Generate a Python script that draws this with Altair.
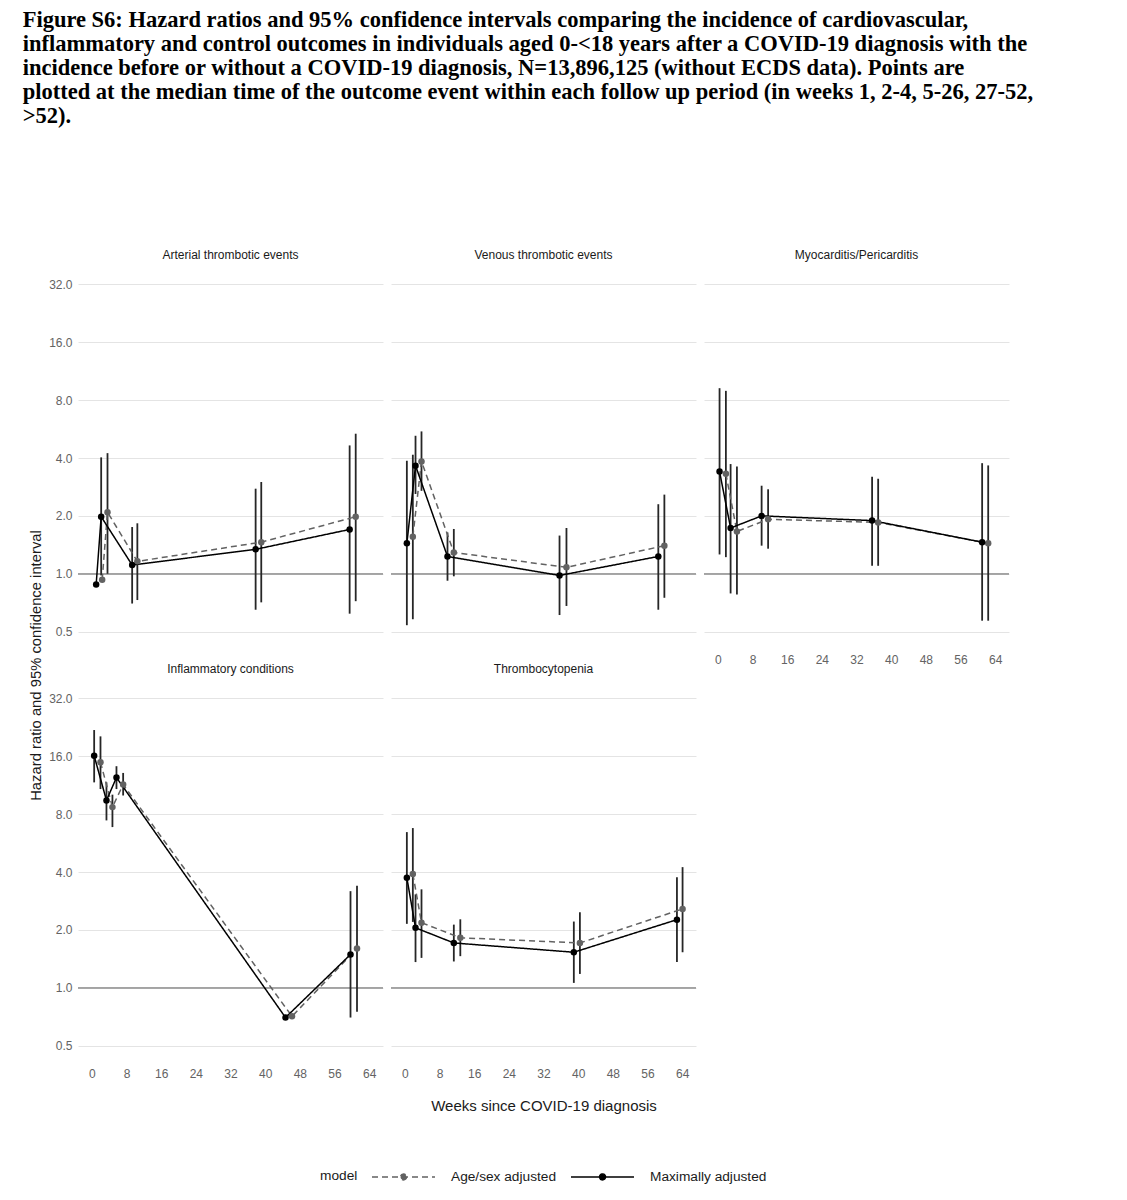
import altair as alt
import pandas as pd

CAPTION = [
    "Figure S6: Hazard ratios and 95% confidence intervals comparing the incidence of cardiovascular,",
    "inflammatory and control outcomes in individuals aged 0-<18 years after a COVID-19 diagnosis with the",
    "incidence before or without a COVID-19 diagnosis, N=13,896,125 (without ECDS data). Points are",
    "plotted at the median time of the outcome event within each follow up period (in weeks 1, 2-4, 5-26, 27-52,",
    ">52).",
]

OUTCOMES = [
    "Arterial thrombotic events",
    "Venous thrombotic events",
    "Myocarditis/Pericarditis",
    "Inflammatory conditions",
    "Thrombocytopenia",
]
MODELS = ["Age/sex adjusted", "Maximally adjusted"]
Y_TICKS = [0.5, 1, 2, 4, 8, 16, 32]
X_TICKS = [0, 8, 16, 24, 32, 40, 48, 56, 64]

# five follow-up periods per outcome, outcomes in OUTCOMES order
MAX_WEEK = [0.99, 2.15, 9.3, 37.8, 59.5,
            0.46, 2.46, 9.84, 35.7, 58.5,
            0.39, 2.94, 10.1, 35.6, 61.0,
            0.53, 3.37, 5.68, 44.7, 59.7,
            0.46, 2.46, 11.3, 39.0, 62.8]
MAX_HR = [0.88, 1.98, 1.11, 1.34, 1.70,
          1.44, 3.65, 1.23, 0.98, 1.23,
          3.40, 1.73, 2.00, 1.89, 1.46,
          16.1, 9.43, 12.4, 0.70, 1.49,
          3.73, 2.05, 1.71, 1.53, 2.26]
MAX_LO = [None, 0.98, 0.70, 0.65, 0.62,
          0.54, 2.60, 0.92, 0.61, 0.65,
          1.26, 0.79, 1.40, 1.10, 0.57,
          11.7, 7.42, 10.8, None, 0.70,
          2.15, 1.36, 1.37, 1.06, 1.36]
MAX_HI = [None, 4.03, 1.75, 2.77, 4.65,
          3.87, 5.22, 1.64, 1.58, 2.30,
          9.23, 3.72, 2.87, 3.20, 3.76,
          21.9, 11.7, 14.2, None, 3.18,
          6.45, 3.06, 2.13, 2.21, 3.76]

AGE_WEEK = [2.38, 3.61, 10.5, 39.1, 60.9,
            1.84, 3.84, 11.3, 37.3, 59.9,
            1.85, 4.40, 11.6, 37.0, 62.4,
            1.99, 4.75, 7.22, 46.2, 61.2,
            1.84, 3.84, 12.8, 40.4, 64.1]
AGE_HR = [0.93, 2.09, 1.16, 1.46, 1.98,
          1.56, 3.84, 1.29, 1.08, 1.40,
          3.31, 1.66, 1.92, 1.85, 1.44,
          14.9, 8.70, 11.4, 0.71, 1.60,
          3.91, 2.18, 1.82, 1.71, 2.57]
AGE_LO = [None, 1.00, 0.73, 0.71, 0.72,
          0.58, 2.70, 0.97, 0.68, 0.75,
          1.22, 0.78, 1.35, 1.10, 0.57,
          10.8, 6.85, 10.0, None, 0.75,
          2.20, 1.43, 1.46, 1.18, 1.53]
AGE_HI = [None, 4.24, 1.83, 3.00, 5.35,
          4.16, 5.50, 1.71, 1.73, 2.58,
          8.94, 3.61, 2.75, 3.12, 3.66,
          20.3, 10.1, 13.1, None, 3.39,
          6.77, 3.25, 2.27, 2.47, 4.24]

rows = []
for model, weeks, hrs, los, his in [
    (MODELS[0], AGE_WEEK, AGE_HR, AGE_LO, AGE_HI),
    (MODELS[1], MAX_WEEK, MAX_HR, MAX_LO, MAX_HI),
]:
    for i in range(len(weeks)):
        rows.append({
            "outcome": OUTCOMES[i // 5],
            "model": model,
            "week": weeks[i],
            "hr": hrs[i],
            "lo": los[i],
            "hi": his[i],
        })
df = pd.DataFrame(rows)

PANEL_W, PANEL_H = 305, 382
X_DOMAIN = [-3.2, 67.2]
Y_DOMAIN = [2 ** -1.3, 2 ** 5.3]
TICK_GREY = "#636363"
TEXT = "#1a1a1a"

color_scale = alt.Scale(domain=MODELS, range=["#626262", "#000000"])
dash_scale = alt.Scale(domain=MODELS, range=[[6, 4], [1, 0]])

# legend key: a 63px line with a dot in its middle, drawn from the left edge
# of a 13px symbol box (unit = 6.5px)
LEGEND_SYMBOL = ("M-1,0L8.69,0M4.31,0A0.46,0.46,0,1,1,3.39,0"
                 "A0.46,0.46,0,1,1,4.31,0Z")


def panel(outcome, show_y, show_x, y_title=None, x_title=None, legend=False):
    base = alt.Chart(df).transform_filter(alt.datum.outcome == outcome)
    xs = alt.Scale(domain=X_DOMAIN, nice=False, zero=False)
    ys = alt.Scale(type="log", base=2, domain=Y_DOMAIN, nice=False)
    x_axis = alt.Axis(values=X_TICKS, grid=False, domain=False, ticks=False,
                      labels=show_x, labelColor=TICK_GREY, labelFontSize=12,
                      labelPadding=5, titleFontSize=15, titleColor=TEXT,
                      titleFontWeight="normal", titlePadding=19)
    y_axis = alt.Axis(values=Y_TICKS, format=".1f", grid=True, gridColor="#e4e4e4",
                      gridWidth=1, domain=False, ticks=False, labels=show_y,
                      labelColor=TICK_GREY, labelFontSize=12, labelPadding=6,
                      titleFontSize=14.8, titleColor=TEXT, titleFontWeight="normal",
                      titlePadding=5, titleY=PANEL_H + 16)
    X = alt.X("week:Q", scale=xs, axis=x_axis, title=x_title)
    Y = alt.Y("hr:Q", scale=ys, axis=y_axis, title=y_title)

    if legend:
        leg = alt.Legend(
            title="model", orient="none", legendX=242, legendY=902,
            direction="horizontal", titleOrient="left", titleAnchor="middle",
            titleBaseline="middle", titleFontSize=13.7, titleFontWeight="normal",
            titleColor=TEXT, titlePadding=13, labelFontSize=13.7, labelColor=TEXT,
            labelOffset=65, columnPadding=11, symbolType=LEGEND_SYMBOL,
            symbolSize=169, symbolStrokeWidth=1.5, symbolFillColor="#333333",
            padding=0,
        )
    else:
        leg = None

    hline = base.mark_rule(color="#a3a3a3", strokeWidth=1.2).encode(
        y=alt.datum(1.0, scale=ys, axis=y_axis, title=y_title)
    )
    bars = base.transform_filter("isValid(datum.lo)").mark_rule(
        color="#262626", strokeWidth=1.8
    ).encode(
        x=X, y=alt.Y("lo:Q", scale=ys, axis=y_axis, title=y_title), y2="hi:Q"
    )
    line = base.mark_line(strokeWidth=1.5).encode(
        x=X, y=Y,
        color=alt.Color("model:N", scale=color_scale, legend=leg),
        strokeDash=alt.StrokeDash("model:N", scale=dash_scale, legend=leg),
    )
    pts = base.mark_point(filled=True, size=42, opacity=1).encode(
        x=X, y=Y,
        color=alt.Color("model:N", scale=color_scale, legend=None),
    )
    return alt.layer(hline, bars, line, pts).properties(
        width=PANEL_W, height=PANEL_H,
        title=alt.TitleParams(outcome, fontSize=12, fontWeight="normal",
                              color=TEXT, offset=5, anchor="middle", frame="group"),
    )


p1 = panel(OUTCOMES[0], True, False,
           y_title="Hazard ratio and 95% confidence interval", legend=True)
p2 = panel(OUTCOMES[1], False, False)
p3 = panel(OUTCOMES[2], False, True)
p4 = panel(OUTCOMES[3], True, True)
p5 = panel(OUTCOMES[4], False, True, x_title="Weeks since COVID-19 diagnosis")

chart = alt.concat(
    p1, p2, p3, p4, p5, columns=3, bounds="flush",
    spacing={"row": 32, "column": 8},
).properties(
    title=alt.TitleParams(
        CAPTION, anchor="start", font="Liberation Serif", fontSize=22.5,
        fontWeight="bold", color="#000000", lineHeight=24, offset=122, dx=-6,
        frame="bounds",
    ),
    padding={"left": 14, "top": 0, "right": 5, "bottom": 5},
).configure(
    font="Liberation Sans",
).configure_view(
    strokeWidth=0,
)

chart.save("out.html", embed_options={"renderer": "svg", "actions": False})
